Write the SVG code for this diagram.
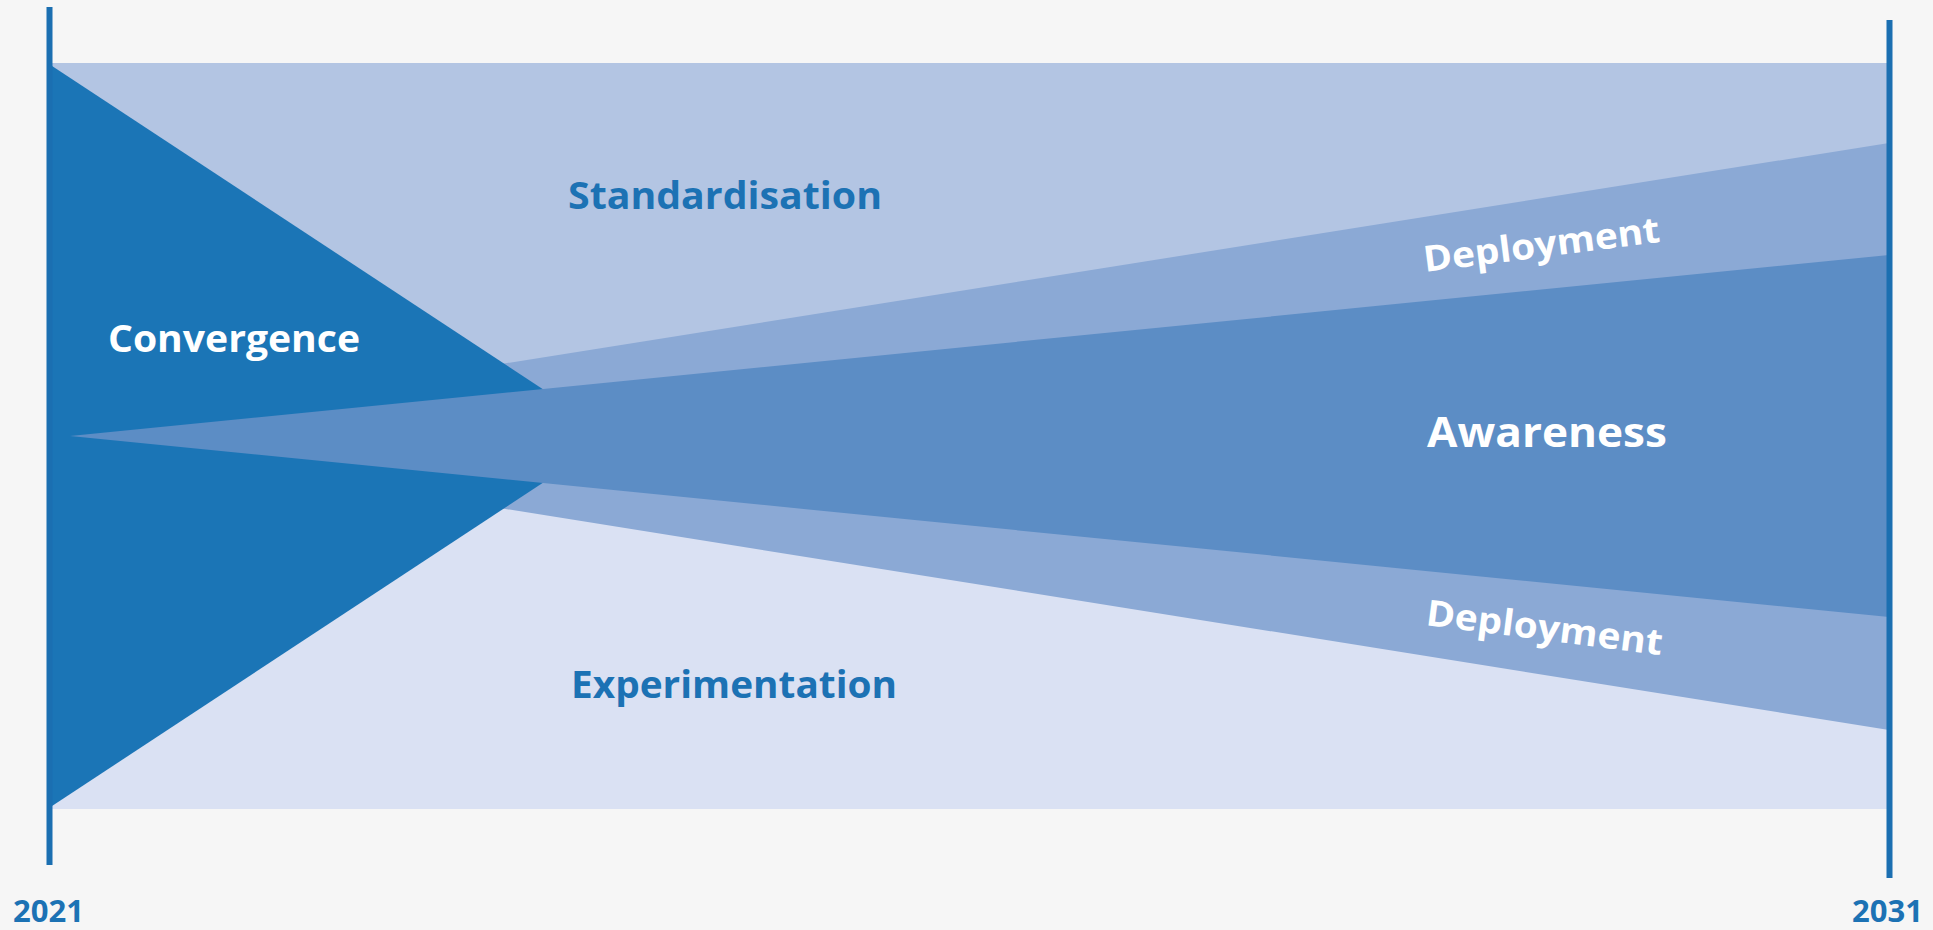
<svg xmlns="http://www.w3.org/2000/svg" width="1933" height="930" viewBox="0 0 1933 930">
<style>
.lbl{font-family:"Open Sans","Noto Sans","Liberation Sans",sans-serif;font-weight:700;}
.blue{fill:#1c72b4;}
.white{fill:#ffffff;}
.axis{stroke:#1b6fb1;stroke-width:6;fill:none;}
</style>
<rect x="0" y="0" width="1933" height="930" fill="#f6f6f6"/>
<g id="standardisation">
<rect x="49" y="63" width="1840" height="374" fill="#b3c5e3"/>
<text class="lbl blue" x="568" y="209" font-size="38" textLength="314" lengthAdjust="spacingAndGlyphs">Standardisation</text>
</g>
<g id="experimentation">
<rect x="49" y="436" width="1840" height="373" fill="#dae1f3"/>
<text class="lbl blue" x="571" y="698" font-size="38" textLength="326" lengthAdjust="spacingAndGlyphs">Experimentation</text>
</g>
<g id="deployment">
<polygon points="49,436 1889,143 1889,730" fill="#8ba9d5"/>
<text class="lbl white" font-size="36" text-anchor="middle" transform="translate(1543,257) rotate(-7.3)" textLength="238" lengthAdjust="spacingAndGlyphs">Deployment</text>
<text class="lbl white" font-size="36" text-anchor="middle" transform="translate(1543,640) rotate(7.3)" textLength="238" lengthAdjust="spacingAndGlyphs">Deployment</text>
</g>
<g id="convergence">
<polygon points="49,64 614,436 49,808" fill="#1b75b6"/>
<text class="lbl white" x="108" y="352" font-size="38" textLength="252" lengthAdjust="spacingAndGlyphs">Convergence</text>
</g>
<g id="awareness">
<polygon points="70,436 1889,255 1889,617" fill="#5c8dc5"/>
<text class="lbl white" x="1427" y="447" font-size="41" textLength="240" lengthAdjust="spacingAndGlyphs">Awareness</text>
</g>
<g id="connectors">
<line class="axis" x1="49.5" y1="7" x2="49.5" y2="865"/>
<line class="axis" x1="1889.5" y1="20" x2="1889.5" y2="878"/>
</g>
<g id="year-2021">
<text class="lbl blue" x="13" y="922" font-size="31">2021</text>
</g>
<g id="year-2031">
<text class="lbl blue" x="1923" y="922" font-size="31" text-anchor="end">2031</text>
</g>
</svg>
